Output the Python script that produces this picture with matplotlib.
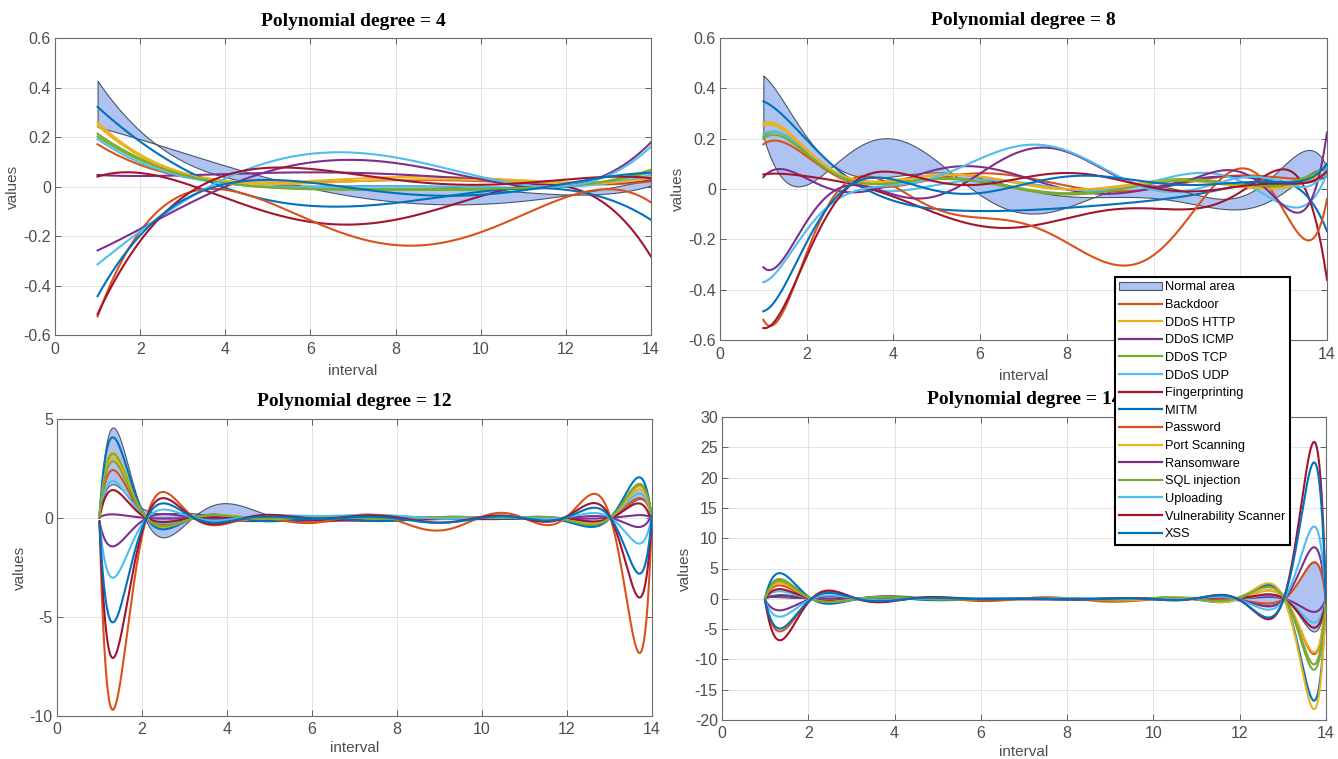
import numpy as np
import matplotlib
matplotlib.use("Agg")
import matplotlib.pyplot as plt
from matplotlib.patches import Patch
from matplotlib.lines import Line2D

plt.rcParams['axes.unicode_minus'] = False
plt.rcParams['font.family'] = ['Liberation Sans', 'DejaVu Sans']

attack_names = ['Backdoor', 'DDoS HTTP', 'DDoS ICMP', 'DDoS TCP', 'DDoS UDP',
                'Fingerprinting', 'MITM', 'Password', 'Port Scanning', 'Ransomware',
                'SQL injection', 'Uploading', 'Vulnerability Scanner', 'XSS']

# values at a handful of intervals (curves are refit with the panel's degree)
x_deg4 = [1, 2, 3, 4, 6, 8, 10, 12, 13, 14]
normal_hi_deg4 = [0.43, 0.22, 0.1, 0.04, 0.01, 0.0, -0.01, -0.035, -0.02, 0.0]
normal_lo_deg4 = [0.24, 0.19, 0.14, 0.085, -0.01, -0.06, -0.068, -0.035, -0.01, 0.03]
values_deg4 = [
    [0.17, 0.09, 0.04, 0.015, 0.02, 0.025, 0.02, 0.01, 0.01, 0.02],
    [0.26, 0.13, 0.055, 0.02, 0.03, 0.035, 0.03, 0.02, 0.02, 0.04],
    [0.045, 0.045, 0.045, 0.05, 0.055, 0.05, 0.03, 0.01, 0.01, 0.03],
    [0.21, 0.12, 0.05, 0.01, -0.01, -0.015, -0.01, 0.0, 0.02, 0.07],
    [0.19, 0.1, 0.04, 0.01, 0.0, 0.0, 0.0, 0.0, 0.01, 0.05],
    [0.06, 0.025, 0.0, -0.03, -0.11, -0.15, -0.07, 0.02, -0.06, -0.3],
    [0.33, 0.175, 0.055, 0.0, -0.05, -0.08, -0.04, 0.0, -0.04, -0.145],
    [-0.53, -0.17, -0.04, -0.01, -0.14, -0.245, -0.17, -0.04, -0.03, -0.055],
    [0.25, 0.12, 0.05, 0.02, 0.02, 0.025, 0.02, 0.015, 0.02, 0.03],
    [-0.26, -0.17, -0.08, 0.0, 0.09, 0.1, 0.03, 0.0, 0.05, 0.18],
    [0.2, 0.11, 0.05, 0.01, -0.01, -0.01, -0.005, 0.0, 0.02, 0.06],
    [-0.32, -0.17, -0.06, 0.02, 0.13, 0.13, 0.03, 0.0, 0.05, 0.16],
    [-0.545, -0.17, -0.03, 0.01, 0.045, 0.05, 0.03, 0.01, 0.02, 0.05],
    [-0.46, -0.17, -0.05, 0.0, -0.01, -0.015, -0.01, 0.0, 0.02, 0.07],
]

x_deg8 = [1, 1.25, 1.5, 2, 2.5, 3, 3.5, 4, 5, 6, 7, 8, 9, 10, 11, 12, 12.5, 13, 13.5, 14]
normal_hi_deg8 = [0.435, 0.42, 0.35, 0.2, 0.09, 0.055, 0.055, 0.06, 0.07, 0.035, -0.01, -0.03,
                  -0.005, -0.04, -0.09, -0.08, -0.03, -0.01, 0.02, 0.09]
normal_lo_deg8 = [0.19, 0.12, 0.04, 0.0, 0.07, 0.14, 0.2, 0.215, 0.11, -0.04, -0.095, -0.06,
                  -0.005, 0.0, -0.02, -0.03, 0.02, 0.1, 0.14, 0.09]
values_deg8 = [
    [0.17, 0.2, 0.19, 0.13, 0.06, 0.02, 0.01, 0.02, 0.05, 0.05, 0.04, 0.02, 0.0, 0.0, 0.02, 0.05, 0.07, 0.05, 0.02, 0.07],
    [0.265, 0.26, 0.23, 0.16, 0.09, 0.05, 0.03, 0.02, 0.06, 0.06, 0.01, -0.005, 0.01, 0.03, 0.03, 0.01, 0.0, 0.01, 0.04, 0.06],
    [0.055, 0.07, 0.065, 0.045, 0.02, -0.005, -0.02, 0.0, 0.1, 0.095, 0.03, 0.0, -0.01, 0.0, 0.04, 0.05, 0.04, 0.02, 0.03, 0.05],
    [0.21, 0.225, 0.21, 0.15, 0.08, 0.04, 0.02, 0.02, 0.04, 0.04, 0.0, -0.02, 0.0, 0.03, 0.04, 0.02, 0.0, 0.01, 0.05, 0.09],
    [0.215, 0.23, 0.22, 0.16, 0.07, 0.02, 0.0, 0.0, 0.02, 0.03, 0.02, 0.0, 0.01, 0.03, 0.05, 0.03, 0.0, -0.06, -0.08, 0.07],
    [0.05, 0.07, 0.065, 0.05, 0.03, 0.01, 0.0, -0.01, -0.1, -0.16, -0.15, -0.11, -0.07, -0.1, -0.07, -0.01, 0.05, 0.07, 0.0, -0.36],
    [0.335, 0.335, 0.3, 0.19, 0.09, 0.03, 0.0, -0.03, -0.085, -0.09, -0.1, -0.07, -0.035, -0.06, -0.04, 0.03, 0.04, 0.03, -0.04, -0.16],
    [-0.52, -0.535, -0.48, -0.25, -0.05, 0.02, 0.04, 0.02, -0.07, -0.12, -0.15, -0.2, -0.29, -0.28, -0.06, 0.075, 0.05, -0.09, -0.2, -0.04],
    [0.25, 0.255, 0.23, 0.15, 0.085, 0.045, 0.03, 0.025, 0.055, 0.055, 0.015, 0.0, 0.01, 0.025, 0.03, 0.02, 0.0, 0.0, 0.03, 0.07],
    [-0.3, -0.33, -0.28, -0.11, -0.01, 0.0, -0.01, -0.02, -0.01, 0.06, 0.14, 0.155, 0.06, 0.02, 0.04, 0.05, 0.03, -0.05, -0.1, 0.23],
    [0.2, 0.215, 0.2, 0.14, 0.075, 0.035, 0.02, 0.02, 0.035, 0.035, -0.005, -0.025, -0.005, 0.02, 0.035, 0.02, 0.01, 0.02, 0.05, 0.08],
    [-0.35, -0.36, -0.31, -0.15, -0.03, -0.02, -0.02, 0.0, 0.07, 0.12, 0.175, 0.155, 0.05, 0.0, 0.02, 0.04, 0.03, 0.02, 0.03, 0.08],
    [-0.53, -0.545, -0.49, -0.26, -0.06, 0.03, 0.045, 0.03, 0.03, 0.05, 0.05, 0.04, 0.03, 0.02, 0.01, 0.0, 0.0, 0.02, 0.05, 0.06],
    [-0.46, -0.47, -0.42, -0.19, -0.03, 0.02, 0.02, 0.01, 0.0, 0.01, 0.02, 0.03, 0.04, 0.03, 0.04, 0.02, 0.0, 0.03, 0.06, 0.09],
]

x_deg12 = [1, 1.15, 1.3, 1.65, 2.05, 2.45, 2.8, 3.1, 3.6, 4, 5, 6, 7, 8, 9, 10, 10.5, 11, 11.5, 12,
           12.7, 13.1, 13.4, 13.7, 13.85, 14]
normal_hi_deg12 = [0.45, 3.1, 4.8, 3.0, 0.0, -1.25, -0.55, 0.0, 0.4, 0.9, 0.0, -0.1, -0.05, 0.0, 0.0, 0.0,
                   0.05, 0.0, -0.05, 0.0, -0.2, 0.0, 0.96, 1.6, 1.12, 0.05]
normal_lo_deg12 = [0.25, 1.24, 1.9, 1.2, 0.0, 0.7, 0.35, 0.0, 0.05, 0.0, 0.0, 0.0, 0.0, 0.0, 0.0, 0.0,
                   0.0, 0.0, 0.0, 0.0, -0.13, 0.0, 0.6, 1.0, 0.7, 0.03]
values_deg12 = [
    [0.2, 1.6, 2.6, 1.6, 0.0, -0.38, -0.2, 0.0, 0.1, 0.03, 0.0, 0.05, 0.05, 0.0, -0.05, 0.05, 0.1, 0.0, -0.1, 0.0, -0.14, 0.0, 0.64, 1.1, 0.75, 0.05],
    [0.25, 2.2, 3.55, 2.2, 0.0, -0.51, -0.27, 0.0, 0.14, 0.03, 0.05, 0.0, 0.05, 0.0, -0.05, 0.05, 0.1, 0.0, -0.1, 0.0, -0.21, 0.0, 0.99, 1.75, 1.15, 0.05],
    [0.05, 0.13, 0.2, 0.12, 0.0, -0.03, -0.02, 0.0, 0.01, 0.0, 0.05, 0.05, 0.0, 0.0, -0.03, 0.0, 0.03, 0.0, -0.03, 0.0, -0.02, 0.0, 0.1, 0.16, 0.11, 0.03],
    [0.22, 2.15, 3.45, 2.15, 0.0, -0.5, -0.26, 0.0, 0.13, 0.03, 0.03, 0.0, 0.03, 0.0, -0.05, 0.05, 0.1, 0.0, -0.1, 0.0, -0.23, 0.0, 1.08, 1.9, 1.26, 0.07],
    [0.2, 1.24, 2.0, 1.22, 0.0, -0.29, -0.15, 0.0, 0.08, 0.02, 0.0, 0.0, 0.02, 0.0, -0.03, 0.03, 0.08, 0.0, -0.08, 0.0, -0.17, 0.0, 0.78, 1.35, 0.91, 0.05],
    [0.07, 0.94, 1.5, 0.92, 0.0, -0.22, -0.12, 0.0, 0.06, -0.02, -0.08, -0.15, -0.12, -0.1, -0.1, -0.05, 0.0, 0.0, -0.05, 0.0, -0.1, 0.0, 0.44, 0.78, 0.52, -0.3],
    [0.35, 2.75, 4.35, 2.65, 0.0, -0.62, -0.33, 0.0, 0.16, 0.0, -0.08, -0.1, -0.08, -0.08, -0.05, 0.0, 0.15, 0.0, -0.3, 0.0, -0.28, 0.0, 1.28, 2.25, 1.49, -0.15],
    [-0.7, -6.5, -10.3, -6.3, 0.0, 1.5, 0.8, 0.0, -0.42, -0.1, 0.0, -0.3, 0.05, 0.05, -0.75, 0.05, 0.25, 0.05, -0.3, 0.0, 0.9, 0.0, -4.3, -7.35, -4.9, -0.05],
    [0.24, 2.0, 3.25, 2.0, 0.0, -0.47, -0.25, 0.0, 0.12, 0.03, 0.03, 0.0, 0.03, 0.0, -0.05, 0.05, 0.1, 0.0, -0.1, 0.0, -0.2, 0.0, 0.9, 1.6, 1.05, 0.04],
    [-0.3, -0.98, -1.55, -0.95, 0.0, 0.23, 0.12, 0.0, -0.06, 0.0, 0.05, 0.1, 0.1, 0.08, 0.0, 0.03, 0.0, 0.0, 0.03, 0.0, 0.06, 0.0, -0.27, -0.48, -0.32, 0.2],
    [0.2, 1.9, 3.05, 1.88, 0.0, -0.44, -0.23, 0.0, 0.12, 0.03, 0.03, 0.0, 0.03, 0.0, -0.05, 0.05, 0.1, 0.0, -0.1, 0.0, -0.23, 0.0, 1.05, 1.85, 1.22, 0.07],
    [-0.35, -2.0, -3.25, -2.0, 0.0, 0.47, 0.25, 0.0, -0.12, 0.0, 0.08, 0.12, 0.15, 0.1, 0.0, 0.0, 0.03, 0.0, 0.03, 0.0, 0.17, 0.0, -0.79, -1.4, -0.92, 0.15],
    [-0.45, -4.8, -7.5, -4.6, 0.0, 1.1, 0.58, 0.0, -0.3, -0.05, 0.05, 0.05, 0.05, 0.05, -0.2, 0.03, 0.05, 0.0, -0.05, 0.0, 0.53, 0.0, -2.5, -4.35, -2.9, 0.05],
    [-0.5, -3.6, -5.6, -3.45, 0.0, 0.82, 0.43, 0.0, -0.22, -0.03, 0.0, 0.0, 0.0, 0.0, -0.25, 0.0, 0.05, 0.0, -0.05, 0.0, 0.37, 0.0, -1.75, -3.05, -2.0, 0.08],
]

x_deg14 = [1, 1.15, 1.35, 1.7, 2.02, 2.45, 2.75, 3.0, 3.5, 4, 5, 6, 7, 8, 9, 10, 10.5, 11, 11.5, 12.1,
           12.7, 13.1, 13.4, 13.73, 13.87, 14]
normal_hi_deg14 = [0.4, 0.6, 0.8, 0.5, 0.0, -0.3, -0.1, 0.0, 0.3, 0.7, 0.0, -0.05, 0.0, 0.0, 0.0, 0.0,
                   0.05, 0.0, -0.05, 0.0, -1.0, 0.0, 3.8, 6.3, 4.4, 0.05]
normal_lo_deg14 = [0.25, 0.25, 0.3, 0.2, 0.0, 0.3, 0.1, 0.0, 0.0, 0.0, 0.0, 0.0, 0.0, 0.0, 0.0, 0.0,
                   0.0, 0.0, 0.0, 0.0, 0.8, 0.0, -3.3, -5.5, -3.85, 0.03]
values_deg14 = [
    [0.15, 1.5, 2.3, 1.38, 0.0, -0.51, -0.28, 0.0, 0.16, 0.05, 0.0, -0.05, 0.0, 0.05, -0.1, 0.0, 0.05, 0.0, -0.05, 0.0, 1.3, 0.0, -5.58, -9.3, -6.5, 0.1],
    [0.2, 1.89, 2.9, 1.74, 0.0, -0.64, -0.35, 0.0, 0.2, 0.06, 0.0, -0.05, 0.0, 0.05, -0.1, 0.0, 0.05, 0.0, -0.05, 0.0, 1.26, 0.0, -5.4, -9.0, -6.3, 0.1],
    [0.05, 0.33, 0.5, 0.3, 0.0, -0.11, -0.06, 0.0, 0.04, 0.01, 0.05, 0.05, 0.0, 0.0, -0.05, 0.0, 0.05, 0.05, 0.0, 0.0, 0.31, 0.0, -1.32, -2.2, -1.54, 0.05],
    [0.2, 2.2, 3.4, 2.04, 0.0, -0.75, -0.41, 0.0, 0.24, 0.07, 0.0, -0.05, 0.0, 0.05, -0.1, 0.0, 0.05, 0.0, -0.05, 0.0, 2.26, 0.0, -7.14, -11.9, -8.3, 0.1],
    [0.2, 0.85, 1.3, 0.78, 0.0, -0.29, -0.16, 0.0, 0.09, 0.03, 0.0, -0.05, 0.0, 0.05, -0.05, 0.0, 0.05, 0.0, -0.05, 0.0, 0.56, 0.0, -2.4, -4.0, -2.8, 0.05],
    [0.05, 1.07, 1.65, 0.99, 0.0, -0.36, -0.2, 0.0, 0.12, 0.0, -0.05, -0.1, -0.1, -0.1, -0.1, -0.05, 0.0, 0.0, -0.05, 0.0, 0.69, 0.0, -2.94, -4.9, -3.43, -0.3],
    [0.35, 2.86, 4.4, 2.64, 0.0, -0.97, -0.53, 0.0, 0.31, 0.0, -0.1, -0.1, -0.1, -0.05, -0.05, 0.0, 0.1, 0.0, -0.2, 0.0, 2.06, 0.0, -10.3, -17.2, -12.0, -0.15],
    [-0.6, -3.64, -5.6, -3.36, 0.0, 1.23, 0.67, 0.0, -0.39, -0.1, 0.0, -0.3, 0.1, 0.05, -0.5, 0.0, 0.2, 0.05, -0.2, 0.0, -0.85, 0.0, 3.66, 6.1, 4.27, -0.05],
    [0.2, 1.75, 2.7, 1.62, 0.0, -0.59, -0.32, 0.0, 0.19, 0.05, 0.0, -0.05, 0.0, 0.05, -0.1, 0.0, 0.05, 0.0, -0.05, 0.0, 2.2, 0.0, -11.2, -18.6, -13.0, 0.05],
    [-0.3, -1.3, -2.0, -1.2, 0.0, 0.44, 0.24, 0.0, -0.14, 0.0, 0.05, 0.1, 0.1, 0.05, 0.0, 0.0, 0.0, 0.0, 0.0, 0.0, -1.2, 0.0, 5.2, 8.7, 6.1, 0.2],
    [0.2, 2.0, 3.1, 1.86, 0.0, -0.68, -0.37, 0.0, 0.22, 0.06, 0.0, -0.05, 0.0, 0.05, -0.1, 0.0, 0.05, 0.0, -0.05, 0.0, 2.0, 0.0, -6.6, -11.0, -7.7, 0.08],
    [-0.35, -2.0, -3.1, -1.86, 0.0, 0.68, 0.37, 0.0, -0.22, 0.0, 0.05, 0.1, 0.1, 0.05, 0.0, 0.0, 0.0, 0.0, 0.0, 0.0, -1.7, 0.0, 7.3, 12.2, 8.5, 0.15],
    [-0.5, -4.6, -7.1, -4.25, 0.0, 1.55, 0.85, 0.0, -0.5, -0.05, 0.05, 0.05, 0.0, 0.0, -0.1, 0.0, 0.05, 0.0, -0.05, 0.0, -2.8, 0.0, 15.9, 26.5, 18.5, 0.05],
    [-0.45, -3.3, -5.1, -3.06, 0.0, 1.12, 0.61, 0.0, -0.36, -0.03, 0.0, 0.0, 0.0, 0.0, -0.15, 0.0, 0.05, 0.0, -0.05, 0.0, -2.7, 0.0, 13.8, 23.0, 16.1, 0.08],
]

# MATLAB default colour order, starting from the second colour
line_colors = ['#D95319', '#EDB120', '#7E2F8E', '#77AC30', '#4DBEEE', '#A2142F', '#0072BD'] * 2
fill_color = '#aec3f2'
fill_edge = '#4a5566'

panels = [
    (4, x_deg4, normal_hi_deg4, normal_lo_deg4, values_deg4, (-0.6, 0.6), np.arange(-0.6, 0.61, 0.2)),
    (8, x_deg8, normal_hi_deg8, normal_lo_deg8, values_deg8, (-0.6, 0.6), np.arange(-0.6, 0.61, 0.2)),
    (12, x_deg12, normal_hi_deg12, normal_lo_deg12, values_deg12, (-10, 5), [-10, -5, 0, 5]),
    (14, x_deg14, normal_hi_deg14, normal_lo_deg14, values_deg14, (-20, 30), np.arange(-20, 31, 5)),
]
# axes boxes in pixels: left, top, right, bottom
boxes = [(55, 38, 651, 335), (720, 38, 1327, 340), (57, 419, 652, 716), (722, 417, 1326, 720)]

W, H = 1338, 759
fig = plt.figure(figsize=(W / 100, H / 100), dpi=100)
xx = np.linspace(1, 14, 600)


def poly_curve(xs, ys, deg):
    p = np.polynomial.Polynomial.fit(xs, ys, deg)
    return p(xx)


for k, ((deg, xs, hi, lo, vals, ylim, yt), (l, t, r, b)) in enumerate(zip(panels, boxes)):
    ax = fig.add_axes([l / W, 1 - b / H, (r - l) / W, (b - t) / H])
    ax.fill_between(xx, poly_curve(xs, hi, deg), poly_curve(xs, lo, deg),
                    facecolor=fill_color, edgecolor=fill_edge, linewidth=0.8, zorder=2)
    for i, row in enumerate(vals):
        ax.plot(xx, poly_curve(xs, row, deg), color=line_colors[i], lw=1.5, zorder=3)
    ax.set_xlim(0, 14)
    ax.set_ylim(*ylim)
    ax.set_xticks(range(0, 15, 2))
    ax.set_yticks(yt)
    ax.set_yticklabels(['%g' % round(v, 1) for v in yt])
    ax.grid(True, color='#e3e3e3', lw=0.7)
    ax.set_axisbelow(True)
    ax.tick_params(direction='in', top=True, right=True, length=4, width=0.6,
                   labelsize=11.5, colors='#4d4d4d', labelcolor='#4d4d4d')
    ax.tick_params(axis='y', pad=3)
    ax.tick_params(axis='x', pad=5 if k < 2 else 4)
    for s in ax.spines.values():
        s.set_color('#6b6b6b')
        s.set_linewidth(0.8)
    ax.set_xlabel('interval', fontsize=11, color='#4d4d4d', labelpad=5 if k < 2 else 3)
    ax.set_ylabel('values', fontsize=11, color='#4d4d4d', labelpad=2)
    ax.set_title('Polynomial degree = %d' % deg, fontsize=14, fontweight='bold',
                 family='Liberation Serif', pad=9)

handles = [Patch(facecolor=fill_color, edgecolor=fill_edge, lw=0.8)]
handles += [Line2D([], [], color=c, lw=1.6) for c in line_colors]
labels = ['Normal area'] + attack_names
leg = fig.legend(handles, labels, loc='upper left', bbox_to_anchor=(1115 / W, 1 - 277 / H),
                 fontsize=9.2, frameon=True, fancybox=False, framealpha=1, edgecolor='black',
                 handlelength=3.3, labelspacing=0.44, borderpad=0.35, handletextpad=0.25,
                 borderaxespad=0)
leg.get_frame().set_linewidth(1.5)

fig.savefig('out.png', dpi=100)
